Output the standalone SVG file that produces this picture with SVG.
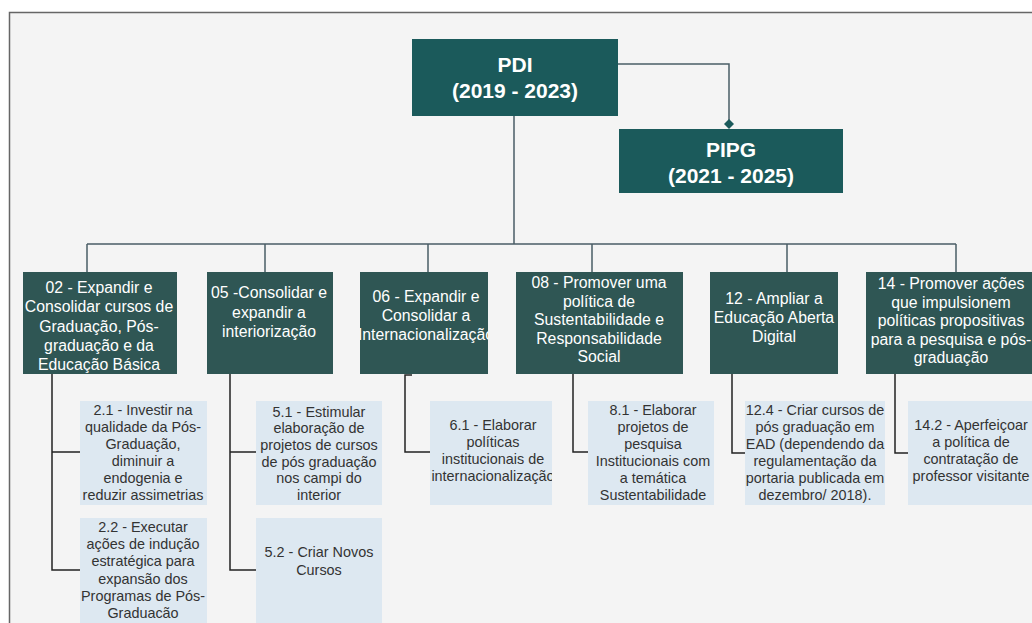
<svg xmlns="http://www.w3.org/2000/svg" width="1032" height="623" viewBox="0 0 1032 623">
<style>
.top{fill:#1b5a5b}
.mid{fill:#2f5654}
.leaf{fill:#dde8f1}
.tt{font-family:"Liberation Sans",Arial,sans-serif;font-weight:bold;font-size:21px;fill:#ffffff;text-anchor:middle}
.mt{font-family:"Liberation Sans",Arial,sans-serif;font-size:15.8px;fill:#ffffff;text-anchor:middle}
.lt{font-family:"Liberation Sans",Arial,sans-serif;font-size:14.4px;fill:#333333;text-anchor:middle}
.bus{fill:none;stroke:#4a5d66;stroke-width:1.5}
.sub{fill:none;stroke:#222222;stroke-width:1.5}
</style>
<defs>
<marker id="dia" viewBox="0 0 10 10" refX="5" refY="5" markerWidth="10" markerHeight="10" markerUnits="userSpaceOnUse" orient="auto">
<path d="M0,5 L5,0 L10,5 L5,10 z" fill="#1b5a5b"/>
</marker>
<clipPath id="c06"><rect x="360" y="272" width="128" height="102"/></clipPath>
<clipPath id="c61"><rect x="430" y="401" width="122" height="104"/></clipPath>
<clipPath id="c81"><rect x="588" y="401" width="124" height="104"/></clipPath>
</defs>
<rect x="0" y="0" width="1032" height="623" fill="#ffffff"/>
<rect x="9.5" y="12.5" width="1030" height="620" fill="#f4f4f4" stroke="#666666" stroke-width="1.5"/>

<g id="connectors">
<path class="bus" d="M618 64 H729 V124" marker-end="url(#dia)"/>
<path class="bus" d="M514 116 V244"/>
<path class="bus" d="M87 244 H956"/>
<path class="bus" d="M87 244 V272 M265 244 V272 M428 244 V272 M592 244 V272 M787 244 V272 M956 244 V272"/>
<path class="sub" d="M52 374 V570 H80 M52 452 H80"/>
<path class="sub" d="M230 374 V570 H256 M230 452 H256"/>
<path class="sub" d="M412 375 H405 V452 H430"/>
<path class="sub" d="M573 374 V452 H588"/>
<path class="sub" d="M732 374 V453 H745"/>
<path class="sub" d="M895 374 V453 H908"/>
</g>

<g id="pdi">
<rect class="top" x="412" y="39" width="206" height="77"/>
<text class="tt" x="515" y="72">PDI</text>
<text class="tt" x="515" y="98">(2019 - 2023)</text>
</g>
<g id="pipg">
<rect class="top" x="619" y="129" width="224" height="64"/>
<text class="tt" x="731" y="157">PIPG</text>
<text class="tt" x="731" y="183">(2021 - 2025)</text>
</g>

<g id="n02">
<rect class="mid" x="23" y="272" width="154" height="102"/>
<text class="mt"><tspan x="99" y="293">02 - Expandir e</tspan><tspan x="99" y="312">Consolidar cursos de</tspan><tspan x="99" y="331.5">Graduação, Pós-</tspan><tspan x="99" y="350.5">graduação e da</tspan><tspan x="99" y="370">Educação Básica</tspan></text>
</g>
<g id="n05">
<rect class="mid" x="207" y="272" width="126" height="102"/>
<text class="mt"><tspan x="269" y="298">05 -Consolidar e</tspan><tspan x="269" y="317.5">expandir a</tspan><tspan x="269" y="337">interiorização</tspan></text>
</g>
<g id="n06">
<rect class="mid" x="360" y="272" width="128" height="102"/>
<text class="mt" clip-path="url(#c06)"><tspan x="426" y="302">06 - Expandir e</tspan><tspan x="426" y="321">Consolidar a</tspan><tspan x="426" y="340">Internacionalização</tspan></text>
</g>
<g id="n08">
<rect class="mid" x="516" y="272" width="167" height="102"/>
<text class="mt"><tspan x="599" y="288">08 - Promover uma</tspan><tspan x="599" y="306.5">política de</tspan><tspan x="599" y="325">Sustentabilidade e</tspan><tspan x="599" y="343.5">Responsabilidade</tspan><tspan x="599" y="362">Social</tspan></text>
</g>
<g id="n12">
<rect class="mid" x="710" y="272" width="128" height="102"/>
<text class="mt"><tspan x="774" y="304">12 - Ampliar a</tspan><tspan x="774" y="323">Educação Aberta</tspan><tspan x="774" y="342">Digital</tspan></text>
</g>
<g id="n14">
<rect class="mid" x="866" y="272" width="175" height="102"/>
<text class="mt"><tspan x="951" y="289">14 - Promover ações</tspan><tspan x="951" y="307.5">que impulsionem</tspan><tspan x="951" y="326">políticas propositivas</tspan><tspan x="951" y="344.5">para a pesquisa e pós-</tspan><tspan x="951" y="363">graduação</tspan></text>
</g>

<g id="n21">
<rect class="leaf" x="80" y="401" width="127" height="104"/>
<text class="lt"><tspan x="143" y="415">2.1 - Investir na</tspan><tspan x="143" y="432">qualidade da Pós-</tspan><tspan x="143" y="449">Graduação,</tspan><tspan x="143" y="466">diminuir a</tspan><tspan x="143" y="483">endogenia e</tspan><tspan x="143" y="500">reduzir assimetrias</tspan></text>
</g>
<g id="n22">
<rect class="leaf" x="80" y="518" width="127" height="106"/>
<text class="lt"><tspan x="143" y="532">2.2 - Executar</tspan><tspan x="143" y="549.2">ações de indução</tspan><tspan x="143" y="566.4">estratégica para</tspan><tspan x="143" y="583.6">expansão dos</tspan><tspan x="143" y="600.8">Programas de Pós-</tspan><tspan x="143" y="618">Graduacão</tspan></text>
</g>
<g id="n51">
<rect class="leaf" x="256" y="401" width="126" height="104"/>
<text class="lt"><tspan x="319" y="416.5">5.1 - Estimular</tspan><tspan x="319" y="433.2">elaboração de</tspan><tspan x="319" y="449.9">projetos de cursos</tspan><tspan x="319" y="466.6">de pós graduação</tspan><tspan x="319" y="483.3">nos campi do</tspan><tspan x="319" y="500">interior</tspan></text>
</g>
<g id="n52">
<rect class="leaf" x="256" y="518" width="126" height="106"/>
<text class="lt"><tspan x="319" y="557">5.2 - Criar Novos</tspan><tspan x="319" y="575">Cursos</tspan></text>
</g>
<g id="n61">
<rect class="leaf" x="430" y="401" width="122" height="104"/>
<text class="lt" clip-path="url(#c61)"><tspan x="493" y="430">6.1 - Elaborar</tspan><tspan x="493" y="447">políticas</tspan><tspan x="493" y="464">institucionais de</tspan><tspan x="493" y="481">internacionalização</tspan></text>
</g>
<g id="n81">
<rect class="leaf" x="588" y="401" width="126" height="104"/>
<text class="lt" clip-path="url(#c81)"><tspan x="653" y="415">8.1 - Elaborar</tspan><tspan x="653" y="432">projetos de</tspan><tspan x="653" y="449">pesquisa</tspan><tspan x="653" y="466">Institucionais com</tspan><tspan x="653" y="483">a temática</tspan><tspan x="653" y="500">Sustentabilidade</tspan></text>
</g>
<g id="n124">
<rect class="leaf" x="745" y="401" width="140" height="104"/>
<text class="lt"><tspan x="815" y="415">12.4 - Criar cursos de</tspan><tspan x="815" y="432">pós graduação em</tspan><tspan x="815" y="449">EAD (dependendo da</tspan><tspan x="815" y="466">regulamentação da</tspan><tspan x="815" y="483">portaria publicada em</tspan><tspan x="815" y="500">dezembro/ 2018).</tspan></text>
</g>
<g id="n142">
<rect class="leaf" x="908" y="401" width="130" height="104"/>
<text class="lt"><tspan x="971" y="430">14.2 - Aperfeiçoar</tspan><tspan x="971" y="447">a política de</tspan><tspan x="971" y="464">contratação de</tspan><tspan x="971" y="481">professor visitante</tspan></text>
</g>
</svg>
